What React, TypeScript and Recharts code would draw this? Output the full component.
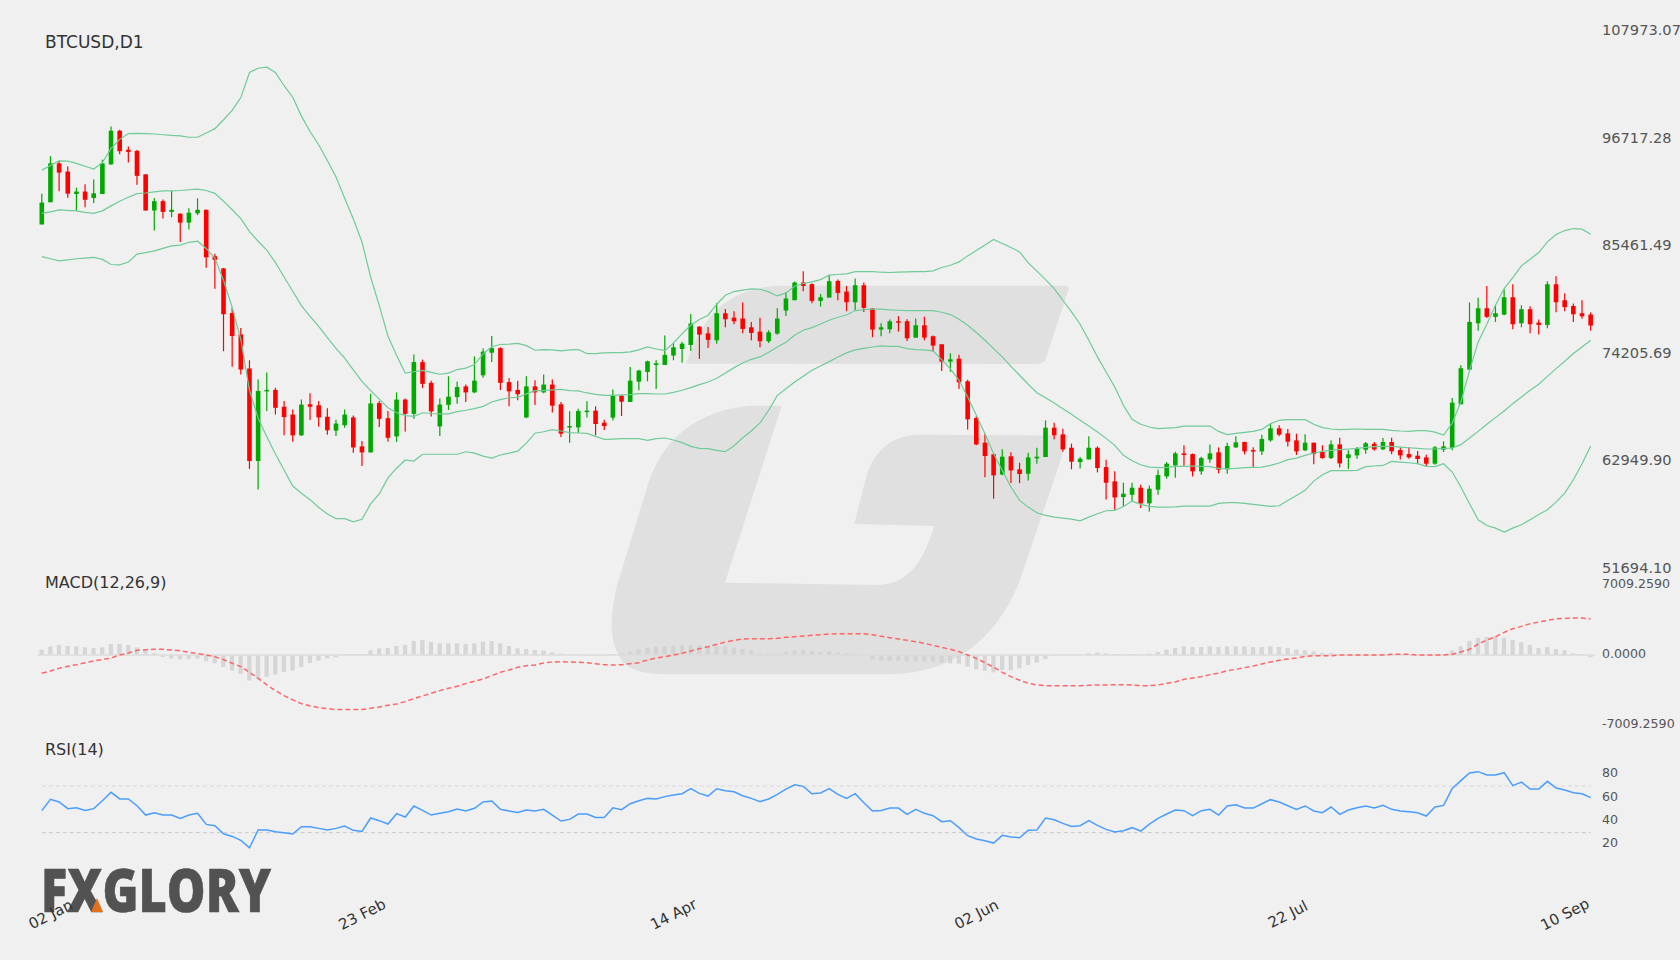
import React from 'react';
import { ComposedChart, Bar, Line, XAxis, YAxis, ReferenceLine } from 'recharts';

const opens = [
  87530,89850,93920,93060,90710,90970,90300,90710,93810,97330,
  95340,95230,92760,88990,89960,88840,88650,87720,88690,89060,
  84200,82930,78260,76010,72460,62780,70070,70220,68460,67640,
  65470,68720,68610,67410,65960,66520,67340,64310,63680,68840,
  67260,65360,69210,67710,73130,70960,66400,68650,69470,70590,
  69960,71750,74110,74590,71040,70220,67340,70590,69960,70780,
  68710,66300,66300,67910,68050,66790,67320,69620,68960,71080,
  72100,72830,72830,73810,74500,74920,76840,76140,75410,78240,
  77780,77680,76770,76320,75310,76110,78520,79600,81450,81280,
  79530,79880,81620,80510,79390,81170,78730,76530,76560,77400,
  77400,75690,76980,75830,74990,73180,73490,71120,67280,64700,
  63480,61380,63270,61910,61450,63060,63200,66270,65570,64170,
  62670,62950,64170,62150,60650,59010,59250,59990,58350,59780,
  61170,62320,63580,63510,61700,62950,63690,61910,64210,64770,
  63930,63790,64940,66200,65670,64940,63900,64700,63720,63090,
  64520,63090,63370,63960,64590,64000,64770,63930,63510,63340,
  63160,62500,63970,64170,68710,72340,77190,78760,77860,78100,
  79910,77190,78660,77260,77020,81270,79600,79000,78240,78100,
];
const highs = [
  90750,94670,94180,93590,91380,91720,92240,94300,97770,97440,
  95680,95310,92800,90300,90150,91040,88690,89210,90260,89100,
  84460,82970,78850,76690,73320,71300,72050,70440,69060,68160,
  69210,69880,69060,68310,67110,68160,67530,64870,69810,69060,
  68010,69960,69320,73920,73400,71190,69320,71640,71110,70780,
  73730,74560,75860,74670,71450,71190,71640,71230,71830,71300,
  68950,67980,68260,69030,68500,67110,70250,69620,72620,72340,
  73280,73320,75900,75130,75270,78170,76880,76810,79320,78690,
  78450,79360,77330,77780,76460,78760,80470,81560,82640,81380,
  80260,82250,81760,81100,81870,81450,78760,77190,77580,77930,
  77610,77680,77860,75900,74990,74050,73910,71290,67460,65600,
  63620,64000,63690,62600,63650,64170,67030,66790,66160,64590,
  63200,65360,64310,62920,61700,60510,60510,60300,60230,61870,
  62670,63760,64420,63580,63230,64520,64210,64700,65360,64800,
  64210,65540,66650,66510,66130,65640,65570,64700,64420,64940,
  65220,63900,64240,64770,64770,65190,65220,64210,64210,63830,
  63440,64350,64840,69370,72790,79360,79850,81100,79080,80720,
  81270,79080,78970,77580,81590,82110,80330,79250,79600,78310,
];
const lows = [
  87530,89850,91010,90330,88950,89320,89770,90710,93770,94860,
  94000,91680,88950,86890,88160,88280,85700,87010,88500,83000,
  80800,74260,72650,71830,61950,59790,68010,67640,65470,64800,
  65400,67080,66370,65540,65400,66250,63640,62250,63680,66330,
  64830,64760,65880,67190,70410,67450,65400,68120,68760,68950,
  69880,71490,73130,70220,68500,69130,67260,68650,69880,67860,
  65290,64700,65750,67320,65470,66020,67030,67490,68960,70180,
  71120,70320,72830,73320,73070,74300,73460,74610,75060,76770,
  77090,76140,75410,74680,75130,76000,77960,79600,80540,79290,
  78940,79880,79600,78450,78550,78380,75730,75830,76140,76320,
  75340,75660,75410,74220,72200,72130,70320,66090,64420,61070,
  58840,61280,60470,60470,60750,62500,63200,65050,63760,61910,
  62010,62950,61590,58760,57680,58030,58560,57860,57510,59250,
  60930,61030,62290,61170,61350,62600,61490,61450,64140,63480,
  62150,63410,64800,65360,64310,63410,63830,62430,63020,62990,
  62110,61940,63020,63550,63860,63930,63480,62950,63020,62460,
  62150,62390,63720,63900,68710,72270,76420,77750,77330,78030,
  76560,76770,76140,76010,76670,78340,78450,77330,77650,76420,
];
const closes = [
  89810,93920,92950,90750,90970,90110,90780,93920,97330,95190,
  95120,92610,88990,89960,88840,89060,87720,88760,89060,84090,
  83830,78140,75860,72350,62780,70110,70220,68350,67380,65470,
  68680,68460,67340,65990,66700,67640,64200,63680,68800,67190,
  65210,69210,67710,73130,70850,67970,68680,69510,70520,69960,
  71190,74220,74590,70960,70070,69770,70590,69960,70780,68570,
  65640,66440,68010,68050,66650,66440,69620,68990,71190,72240,
  73210,73000,73880,74680,75060,77160,76000,75450,78240,77610,
  77400,76600,76180,75310,76250,77680,79780,81450,81100,79530,
  79910,81590,80370,79390,81170,78800,76530,76770,77400,77260,
  75620,76980,75690,74850,73180,73420,71010,67140,64520,63300,
  61280,63230,61800,61420,63160,63230,66270,65470,64000,62710,
  63020,64170,62050,60510,58970,59360,59990,58350,59880,61310,
  62500,63580,63410,61700,63090,63580,61870,64350,64730,63790,
  63830,65080,66200,65540,64800,63790,64700,63510,63090,64520,
  62530,63480,64100,64630,64000,64770,63790,63370,63160,62990,
  62500,64210,64310,68890,72480,77330,78760,77860,78240,79910,
  77090,78660,77090,77020,81270,79390,78870,78130,77920,76950,
];

const bbUpper = [
  93210,93700,94180,94150,93920,93620,93320,94000,95490,96430,
  97030,97060,97030,96990,96910,96840,96800,96650,96650,97100,
  97550,98480,99460,100800,103420,103870,103980,103420,102040,100840,
  98860,97250,95870,94220,92500,90260,88090,85700,82030,79040,
  75860,73810,71980,72120,72270,72050,71860,71980,72350,72500,
  72870,73990,74740,74970,75000,75080,74850,74370,74440,74410,
  74300,74400,74440,74020,74020,74090,74120,74120,74190,74400,
  74710,74500,74330,75130,76110,76980,77580,78030,79180,80120,
  80510,80650,80790,80750,80470,80050,80370,81070,81350,81520,
  81760,82220,82290,82360,82600,82600,82600,82530,82500,82530,
  82570,82600,82600,82670,83020,83260,83610,84240,84800,85390,
  85950,85530,85110,84660,83510,82640,81760,80820,79600,78380,
  77090,75410,73670,72100,70530,68610,67140,66620,66340,66160,
  66230,66270,66440,66440,66440,66440,65880,65540,65680,65780,
  65880,66090,66690,67040,67110,67110,67110,66620,66270,66130,
  66060,66090,66130,66090,66090,66090,65990,65920,65880,65950,
  65950,65810,65500,66760,68960,72270,75240,77090,79080,80820,
  81970,83200,83890,84590,85710,86480,86890,87100,87030,86510,
];
const bbMiddle = [
  88690,88840,89060,88990,88950,88800,88690,88950,89470,89960,
  90370,90750,90820,90930,91040,91040,91080,91160,91230,91080,
  90780,89960,89060,88130,86780,85770,84840,83530,82030,80540,
  79040,77920,76870,75680,74560,73550,72310,71120,70140,69250,
  68350,67830,67530,67450,67830,67750,67710,67710,67940,68090,
  68270,68500,68950,69210,69400,69430,69810,70140,70140,70220,
  70280,70140,70110,69900,69760,69650,69650,69690,69720,69830,
  69830,69790,69790,69970,70180,70460,70770,71050,71430,71990,
  72550,73040,73420,73670,74160,74710,75200,75940,76460,76740,
  77120,77510,77820,78060,78520,78620,78660,78660,78590,78550,
  78520,78520,78520,78520,78340,78100,77610,76980,76220,75410,
  74540,73670,72690,71750,70810,69930,69410,68850,68260,67660,
  67040,66440,65810,65150,64420,63370,62810,62390,62150,62080,
  62110,62220,62220,62260,62220,62190,62010,61980,62010,62080,
  62110,62150,62320,62570,62920,63090,63370,63620,63790,63900,
  63970,64040,64100,64210,64280,64310,64310,64240,64170,64100,
  64040,64040,64070,64140,64490,65190,65880,66620,67320,68010,
  68780,69480,70180,70810,71640,72450,73210,74020,74710,75410,
];
const bbLower = [
  84160,83940,83720,83830,83940,84010,84090,83870,83340,83300,
  83600,84430,84580,84760,85020,85290,85360,85660,85770,85020,
  84010,81660,78850,75490,70180,67260,65320,63520,61840,60160,
  59410,58740,57920,57240,56760,56760,56420,56680,58290,59340,
  61020,62030,62890,62780,63490,63490,63490,63490,63490,63750,
  63600,63300,63080,63410,63600,63820,64650,65690,65840,66070,
  65920,65750,65710,65670,65360,65050,65080,65120,65120,65120,
  64940,65120,65190,64980,64700,64310,64100,64070,63900,63760,
  64380,65220,65920,66760,68090,69650,70350,71050,71640,72270,
  72720,73180,73670,74090,74400,74570,74710,74820,74780,74780,
  74540,74430,74400,74300,73390,72410,71220,69480,67560,65640,
  63550,61800,60060,58660,57960,57370,57090,56910,56810,56710,
  56530,56910,57260,57580,57610,58030,58590,58240,58030,57960,
  57960,57990,58070,58070,58070,58070,58350,58420,58420,58350,
  58240,58140,58030,58100,58660,59180,59710,60680,61350,61770,
  61770,61770,61800,62190,62260,62320,62740,62670,62600,62500,
  62220,62190,62500,61630,60060,58310,56640,56040,55760,55340,
  55760,56110,56640,57190,57680,58480,59430,60820,62500,64350,
];

const macdLine = [
  -1833,-1600,-1333,-1133,-967,-767,-600,-467,-300,0,
  200,467,533,567,567,500,433,267,133,0,
  -167,-467,-833,-1167,-1733,-2333,-3000,-3567,-4067,-4500,
  -4867,-5100,-5267,-5367,-5467,-5467,-5467,-5467,-5333,-5200,
  -5033,-4900,-4667,-4367,-4100,-3833,-3567,-3333,-3133,-2867,
  -2633,-2400,-2067,-1733,-1500,-1233,-1067,-1000,-800,-700,
  -667,-700,-733,-767,-867,-967,-1000,-967,-867,-767,
  -500,-300,-167,0,167,400,633,833,1067,1300,
  1467,1600,1633,1633,1633,1667,1767,1833,1900,1967,
  2033,2100,2133,2133,2133,2133,2033,1867,1733,1600,
  1467,1333,1167,967,767,567,333,0,-333,-767,
  -1233,-1733,-2167,-2533,-2833,-3000,-3067,-3067,-3067,-3067,
  -3067,-3033,-3000,-3000,-2967,-2967,-3000,-3067,-3067,-3000,
  -2833,-2700,-2433,-2300,-2167,-1967,-1833,-1567,-1433,-1267,
  -1100,-900,-700,-533,-400,-300,-133,-67,-67,-67,
  0,0,0,0,0,0,67,67,67,0,
  0,0,0,67,300,567,1100,1500,1833,2267,
  2633,2867,3133,3300,3467,3633,3667,3700,3700,3600,
];
const macdHist = [
  533,833,1000,900,867,767,700,767,1100,1100,
  1000,767,600,167,-200,-367,-433,-400,-367,-633,
  -833,-1200,-1567,-1900,-2567,-2400,-2200,-1967,-1700,-1567,
  -1200,-800,-567,-333,-233,100,100,100,467,667,
  700,900,1000,1400,1500,1300,1167,1167,1167,1100,
  1167,1333,1400,1167,900,667,600,500,433,267,
  133,-33,-67,-100,-100,-100,67,167,333,567,
  733,800,867,933,967,1000,967,900,900,833,
  733,600,467,167,133,133,300,433,500,367,
  300,367,233,167,133,-67,-433,-567,-567,-567,
  -633,-633,-633,-667,-767,-833,-867,-1167,-1433,-1567,
  -1733,-1500,-1533,-1333,-1000,-767,-400,-100,33,67,
  67,167,233,167,67,33,67,33,133,300,
  533,700,867,800,800,867,800,867,867,867,
  800,800,867,800,700,533,467,367,200,200,
  67,67,67,100,67,133,67,33,33,33,
  33,67,67,467,867,1400,1733,1800,1900,1733,
  1500,1267,1000,700,800,600,467,167,67,-233,
];
const rsiValues = [
  48.9,58.6,56.3,50.6,51.4,49.1,50.6,57.4,64.6,58.9,
  58.9,53.1,45.1,47.1,45.1,45.1,42.3,45.1,46.6,37.1,
  36.0,29.1,26.8,23.4,17.1,32.3,32.3,30.9,30.0,28.9,
  35.1,35.1,33.7,32.3,33.7,35.7,32.0,31.1,42.6,40.3,
  37.4,46.3,43.4,52.9,49.1,45.1,46.6,48.0,50.3,48.6,
  50.9,56.3,57.1,50.0,48.6,47.4,49.4,48.6,50.0,45.1,
  40.0,41.4,46.0,46.0,43.1,43.1,51.4,49.7,54.8,57.4,
  59.4,58.9,60.9,62.3,63.4,67.7,63.7,61.4,67.7,66.0,
  65.1,61.7,59.4,56.6,58.9,62.8,67.4,71.1,69.7,63.4,
  64.0,67.7,62.8,59.4,63.4,55.7,48.6,49.1,51.1,51.1,
  45.7,50.0,46.6,44.6,39.4,40.3,34.3,27.4,24.6,23.1,
  21.1,27.7,26.3,25.7,32.0,32.3,42.6,41.1,38.0,35.4,
  36.0,40.3,36.3,32.8,30.6,31.7,34.3,31.4,37.4,42.3,
  46.0,49.4,48.9,44.6,48.9,50.0,45.1,52.9,54.0,51.1,
  51.1,54.8,58.3,56.3,53.1,50.0,52.9,48.6,47.1,52.0,
  45.7,49.4,51.4,52.9,51.1,53.4,50.0,48.6,48.0,47.1,
  44.3,52.0,53.4,68.0,74.6,81.1,82.3,79.4,79.4,81.4,
  70.3,73.4,67.4,67.4,74.0,68.3,66.6,64.3,63.4,60.0,
];

const priceTicks = [51694.1, 62949.9, 74205.69, 85461.49, 96717.28, 107973.07];
const macdTicks = [-7009.259, 0, 7009.259];
const rsiTicks = [20, 40, 60, 80];
const rsiLevels = [70, 30];
const dateTickIndex = [1, 37, 73, 108, 144, 176];
const dateTickLabels = ['02 Jan', '23 Feb', '14 Apr', '02 Jun', '22 Jul', '10 Sep'];

const tableData = opens.map((open, i) => ({
  index: i,
  open,
  close: closes[i],
  high: highs[i],
  low: lows[i],
  range: [lows[i], highs[i]],
  upper: bbUpper[i],
  middle: bbMiddle[i],
  lower: bbLower[i],
  macd: macdLine[i],
  hist: macdHist[i],
  rsi: rsiValues[i],
}));

const FONT = '"DejaVu Sans", sans-serif';
const LEFT = 37.5;
const AXIS_W = 85;
const LABEL_X = 1602;
const BAND_COLOR = '#6fcb97';

const Candle = (props: any) => {
  const { x, y, width, height, payload } = props;
  const up = payload.close >= payload.open;
  const color = up ? '#00a800' : '#ff0000';
  const k = height / (payload.high - payload.low);
  const top = y + (payload.high - Math.max(payload.open, payload.close)) * k;
  const bottom = y + (payload.high - Math.min(payload.open, payload.close)) * k;
  const cx = x + width / 2;
  return (
    <g>
      <line x1={cx} x2={cx} y1={y} y2={y + height} stroke={color} strokeWidth={1.2} />
      <rect x={x} y={top} width={width} height={Math.max(bottom - top, 1.5)} fill={color} />
    </g>
  );
};

const sideTick = (digits: number, size: number, shift: number) => (props: any) => (
  <text
    x={LABEL_X}
    y={props.y + shift}
    dy="0.36em"
    textAnchor="start"
    fontFamily={FONT}
    fontSize={size}
    fill="#555"
  >
    {Number(props.payload.value).toFixed(digits)}
  </text>
);

const DateTick = (props: any) => {
  const i = dateTickIndex.indexOf(props.payload.value);
  return (
    <text
      x={props.x}
      y={174}
      dy="0.36em"
      textAnchor="middle"
      fontFamily={FONT}
      fontSize={15}
      fill="#333"
      transform={`rotate(-27 ${props.x} 174)`}
    >
      {dateTickLabels[i]}
    </text>
  );
};

const Backdrop = () => (
  <svg width={1680} height={960} style={{ position: 'absolute', left: 0, top: 0 }}>
    <g transform="translate(590 270) scale(0.3333)" fill="#e0e0e0">
      <path d="M288 281 C330 170 380 60 560 47 L1425 47 Q1440 47 1436 58 L1368 265 Q1362 282 1340 282 Z" />
      <path d="M575 407 L480 407 C330 420 220 500 175 640 L80 950 C60 1040 55 1110 95 1170 C125 1210 180 1213 260 1213 L900 1213 C1090 1210 1220 1110 1290 930 L1437 497 L980 494 C900 497 850 550 830 615 L793 762 L1033 768 C1000 880 950 945 860 945 L405 938 Z" />
    </g>
    <text
      x={41}
      y={912}
      fontFamily='"Open Sans", sans-serif'
      fontWeight={800}
      fontSize={60}
      fill="#525252"
      stroke="#525252"
      strokeWidth={0.6}
      textLength={230}
      lengthAdjust="spacingAndGlyphs"
    >
      FXGLORY
    </text>
    <path d="M97 898 L103 912 L91 912 Z" fill="#e2711d" />
    <g fontFamily={FONT} fill="#333">
      <text x={45} y={48} fontSize={17}>BTCUSD,D1</text>
      <text x={45} y={587.5} fontSize={16}>MACD(12,26,9)</text>
      <text x={45} y={755} fontSize={16}>RSI(14)</text>
    </g>
  </svg>
);

export default function App() {
  return (
    <div style={{ position: 'absolute', left: 0, top: 0, width: 1680, height: 960, background: '#f0f0f0', overflow: 'hidden' }}>
      <Backdrop />

      <div style={{ position: 'absolute', left: 0, top: 0 }}>
        <ComposedChart width={1680} height={575} data={tableData} margin={{ top: 29, right: 0, bottom: 8, left: LEFT }}>
          <XAxis dataKey="index" scale="band" hide />
          <YAxis
            orientation="right"
            width={AXIS_W}
            domain={[priceTicks[0], priceTicks[5]]}
            ticks={priceTicks}
            interval={0}
            allowDataOverflow
            axisLine={false}
            tickLine={false}
            tick={sideTick(2, 14.6, 0.8)}
          />
          <Line dataKey="upper" stroke={BAND_COLOR} strokeWidth={1.2} dot={false} isAnimationActive={false} />
          <Line dataKey="middle" stroke={BAND_COLOR} strokeWidth={1.2} dot={false} isAnimationActive={false} />
          <Line dataKey="lower" stroke={BAND_COLOR} strokeWidth={1.2} dot={false} isAnimationActive={false} />
          <Bar dataKey="range" barSize={4.6} shape={Candle} isAnimationActive={false} />
        </ComposedChart>
      </div>

      <div style={{ position: 'absolute', left: 0, top: 575 }}>
        <ComposedChart width={1680} height={155} data={tableData} margin={{ top: 10, right: 0, bottom: 5, left: LEFT }}>
          <XAxis dataKey="index" scale="band" hide />
          <YAxis
            orientation="right"
            width={AXIS_W}
            domain={[macdTicks[0], macdTicks[2]]}
            ticks={macdTicks}
            interval={0}
            allowDataOverflow
            axisLine={false}
            tickLine={false}
            tick={sideTick(4, 12.6, -1.7)}
          />
          <ReferenceLine y={0} stroke="#dcdcdc" strokeWidth={1.5} />
          <Bar dataKey="hist" barSize={4.3} fill="#cfcfcf" fillOpacity={0.8} isAnimationActive={false} />
          <Line dataKey="macd" stroke="#ff6666" strokeWidth={1.5} strokeDasharray="5 3" dot={false} isAnimationActive={false} />
        </ComposedChart>
      </div>

      <div style={{ position: 'absolute', left: 0, top: 740 }}>
        <ComposedChart width={1680} height={220} data={tableData} margin={{ top: 11, right: 0, bottom: 32.3, left: LEFT }}>
          <XAxis
            dataKey="index"
            scale="band"
            height={60}
            ticks={dateTickIndex}
            interval={0}
            axisLine={false}
            tickLine={false}
            tick={DateTick}
          />
          <YAxis
            orientation="right"
            width={AXIS_W}
            domain={[0, 100]}
            ticks={rsiTicks}
            interval={0}
            axisLine={false}
            tickLine={false}
            tick={sideTick(0, 12.6, -1.7)}
          />
          <ReferenceLine
            segment={[{ x: 0, y: rsiLevels[0] }, { x: 179, y: rsiLevels[0] }]}
            stroke="#d8d8d8"
            strokeDasharray="4 3"
          />
          <ReferenceLine
            segment={[{ x: 0, y: rsiLevels[1] }, { x: 179, y: rsiLevels[1] }]}
            stroke="#c8c8c8"
            strokeDasharray="4 3"
          />
          <Line dataKey="rsi" stroke="#4a9dff" strokeWidth={1.5} dot={false} isAnimationActive={false} />
        </ComposedChart>
      </div>
    </div>
  );
}
